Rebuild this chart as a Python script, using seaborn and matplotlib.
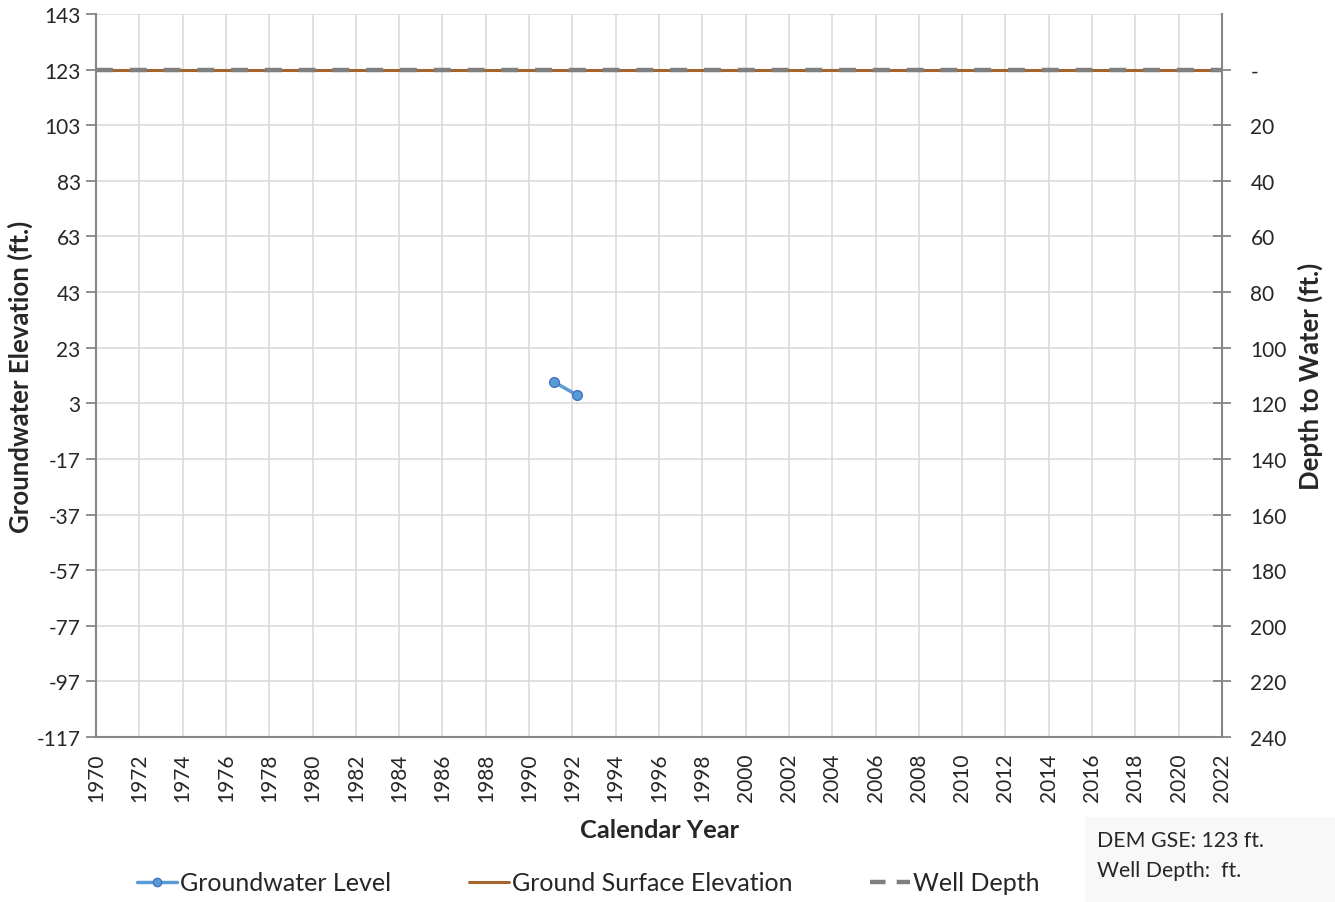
import numpy as np
import pandas as pd
import matplotlib
matplotlib.use("Agg")
import matplotlib.pyplot as plt
import seaborn as sns
from matplotlib.lines import Line2D
from matplotlib.ticker import FuncFormatter, FixedLocator

# ---- data ----
gw_years = [1991.15, 1992.2]
gw_elev = [10.7, 6.0]
gse_years = [1970, 2022]
gse_elev = [123, 123]
well_years = [1970, 2022]
well_elev = [123, 123]
gse_value = 123
left_ticks = list(range(-117, 144, 20))
right_ticks = list(range(0, 241, 20))
x_ticks = list(range(1970, 2023, 2))

sns.set_style("white")
plt.rcParams['font.family'] = ['Lato', 'DejaVu Sans']
plt.rcParams['axes.unicode_minus'] = False

FAM = ['Lato', 'DejaVu Sans']

fig = plt.figure(figsize=(13.35, 9.03), dpi=100)
ax = fig.add_axes([96/1335, 1-738/903, (1222-96)/1335, (738-15)/903])

grid_c = "#d9d9d9"
spine_c = "#868686"

df_gw = pd.DataFrame({"year": gw_years, "elev": gw_elev})
df_gse = pd.DataFrame({"year": gse_years, "elev": gse_elev})
df_well = pd.DataFrame({"year": well_years, "elev": well_elev})

sns.lineplot(data=df_gse, x="year", y="elev", ax=ax, color="#A5652F", lw=2.2, zorder=3)
sns.lineplot(data=df_well, x="year", y="elev", ax=ax, color="#7f7f7f", lw=3.2,
             zorder=4).lines[-1].set_dashes([3.8, 3.8])
sns.lineplot(data=df_gw, x="year", y="elev", ax=ax, color="#5B9BD5", lw=2.5,
             marker="o", markersize=7, markerfacecolor="#5B9BD5",
             markeredgecolor="#4472C4", markeredgewidth=1, zorder=5)

ax.set_xlim(1970, 2022)
ax.set_ylim(-117, 143)
ax.set_xticks(x_ticks)
ax.set_yticks(left_ticks)
ax.set_xticklabels([str(x) for x in x_ticks], rotation=90, fontsize=15)
ax.tick_params(axis='y', labelsize=15)
ax.grid(True, color=grid_c, lw=1.1)
ax.set_axisbelow(True)
for s in ["top", "right"]:
    ax.spines[s].set_visible(False)
for s in ["left", "bottom"]:
    ax.spines[s].set_color(spine_c)
    ax.spines[s].set_linewidth(1.5)
ax.tick_params(axis='both', direction='out', length=7, color=spine_c, width=1.3, pad=4)
ax.set_xlabel("Calendar Year", fontsize=18.3, fontweight='bold', family=FAM)
ax.set_ylabel("Groundwater Elevation (ft.)", fontsize=18.5, fontweight='bold', family=FAM)
ax.xaxis.set_label_coords(0.5, -(819-738)/723, transform=ax.transAxes)
ax.yaxis.set_label_coords(-(96-33)/1126, 0.5, transform=ax.transAxes)

ax2 = ax.twinx()
ax2.set_ylim(gse_value - (-117), gse_value - 143)
ax2.yaxis.set_major_locator(FixedLocator(right_ticks))
ax2.yaxis.set_major_formatter(FuncFormatter(lambda v, p: "-" if v == 0 else f"{int(v)}"))
ax2.tick_params(axis='y', labelsize=15, direction='inout', length=13, color=spine_c, width=1.3, pad=14)
for s in ["top", "left", "bottom"]:
    ax2.spines[s].set_visible(False)
ax2.spines["right"].set_color(spine_c)
ax2.spines["right"].set_linewidth(1.5)
ax2.set_ylabel("Depth to Water (ft.)", fontsize=18.5, fontweight='bold', family=FAM)
ax2.yaxis.set_label_coords(1 + (1298-1222)/1126, 0.5, transform=ax.transAxes)

handles = [
    Line2D([], [], color="#5B9BD5", lw=2.5, marker="o", markersize=6,
           markerfacecolor="#5B9BD5", markeredgecolor="#4472C4"),
    Line2D([], [], color="#A5652F", lw=2.2),
    Line2D([], [], color="#7f7f7f", lw=3.2, dashes=[3.5, 2.5]),
]
labels = ["Groundwater Level", "Ground Surface Elevation", "Well Depth"]
fig.legend(handles, labels, loc="center", bbox_to_anchor=(588/1335, 1-884/903), ncol=3,
           frameon=False, prop={'family': FAM, 'size': 18},
           handlelength=1.6, handletextpad=0.12, columnspacing=3.1)

fig.patches.append(matplotlib.patches.Rectangle((1085/1335, 0), 250/1335, 85/903,
                   transform=fig.transFigure, facecolor="#f8f8f8", edgecolor="none", zorder=0))
fig.text(1097/1335, 1-841/903, "DEM GSE: 123 ft.", fontsize=15.3, family=FAM, va='center')
fig.text(1097/1335, 1-871/903, "Well Depth:  ft.", fontsize=15.3, family=FAM, va='center')

fig.savefig("out.png", dpi=100)
